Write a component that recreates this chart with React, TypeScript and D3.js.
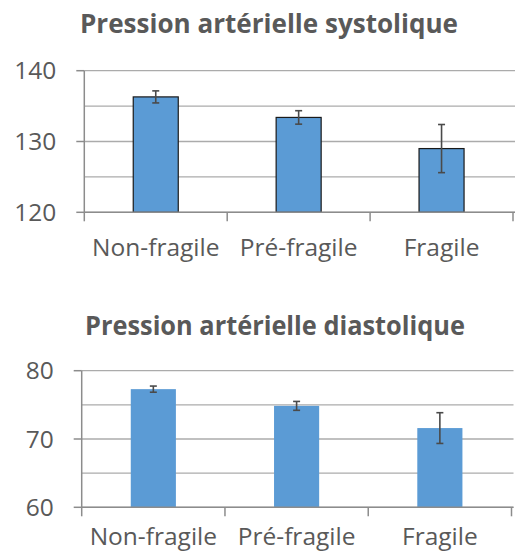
import React from "react";
import * as d3 from "d3";

const categories = ["Non-fragile", "Pré-fragile", "Fragile"];
const systolicValues = [136.3, 133.4, 129.0];
const systolicErrors = [0.85, 0.95, 3.4];
const systolicTicks = [120, 130, 140];
const systolicGrid = [120, 125, 130, 135, 140];
const diastolicValues = [77.3, 74.85, 71.6];
const diastolicErrors = [0.45, 0.65, 2.25];
const diastolicTicks = [60, 70, 80];
const diastolicGrid = [60, 65, 70, 75, 80];

const TEXT = "#595959";
const FONT = "'Open Sans', sans-serif";

type PanelProps = {
  title: string;
  values: number[];
  errors: number[];
  ticks: number[];
  grid: number[];
  domain: [number, number];
  titleY: number;
  titleX: number;
  titleLen: number;
  x0: number;
  x1: number;
  yTop: number;
  yBottom: number;
  labelY: number;
  outline: boolean;
};

function Panel(p: PanelProps) {
  const x = d3.scaleBand<string>().domain(categories).range([p.x0, p.x1]).paddingInner(0).paddingOuter(0);
  const y = d3.scaleLinear().domain(p.domain).range([p.yBottom, p.yTop]);
  const step = x.step();
  const bw = step * 0.315;
  return (
    <g>
      <text
        x={p.titleX}
        y={p.titleY}
        textAnchor="middle"
        fontFamily={FONT}
        fontWeight="bold"
        fontSize={27}
        fill={TEXT}
        textLength={p.titleLen}
        lengthAdjust="spacingAndGlyphs"
      >
        {p.title}
      </text>
      {p.grid.map((g) => (
        <line key={"g" + g} x1={p.x0} x2={p.x1 + 2} y1={y(g)} y2={y(g)} stroke="#ababab" strokeWidth={1.3} />
      ))}
      {/* y axis */}
      <line x1={p.x0} x2={p.x0} y1={p.yTop} y2={p.yBottom} stroke="#8c8c8c" strokeWidth={1.5} />
      {p.ticks.map((t) => (
        <g key={"t" + t}>
          <line x1={p.x0 - 8} x2={p.x0} y1={y(t)} y2={y(t)} stroke="#8c8c8c" strokeWidth={1.5} />
          <text x={p.x0 - 28} y={y(t)} dy="0.35em" textAnchor="end" fontFamily={FONT} fontSize={24.5} fill={TEXT}>
            {t}
          </text>
        </g>
      ))}
      {/* bars */}
      {categories.map((c, i) => {
        const cx = (x(c) as number) + step / 2;
        const v = p.values[i];
        const e = p.errors[i];
        return (
          <g key={c}>
            <rect
              x={cx - bw / 2}
              y={y(v)}
              width={bw}
              height={p.yBottom - y(v)}
              fill="#5b9bd5"
              stroke={p.outline ? "#1a1a1a" : "none"}
              strokeWidth={1.2}
            />
            <line x1={cx} x2={cx} y1={y(v + e)} y2={y(v - e)} stroke="#4a4a4a" strokeWidth={1.6} />
            <line x1={cx - 3.5} x2={cx + 3.5} y1={y(v + e)} y2={y(v + e)} stroke="#4a4a4a" strokeWidth={1.6} />
            <line x1={cx - 3.5} x2={cx + 3.5} y1={y(v - e)} y2={y(v - e)} stroke="#4a4a4a" strokeWidth={1.6} />
            <text x={cx} y={p.labelY} textAnchor="middle" fontFamily={FONT} fontSize={24.5} fill={TEXT}>
              {c}
            </text>
          </g>
        );
      })}
      {/* x axis */}
      <line x1={p.x0} x2={p.x1 + 2} y1={p.yBottom} y2={p.yBottom} stroke="#8c8c8c" strokeWidth={1.5} />
      {[0, 1, 2, 3].map((k) => (
        <line
          key={"xt" + k}
          x1={p.x0 + k * step}
          x2={p.x0 + k * step}
          y1={p.yBottom}
          y2={p.yBottom + 9}
          stroke="#8c8c8c"
          strokeWidth={1.5}
        />
      ))}
    </g>
  );
}

export default function App() {
  return (
    <svg width={520} height={558} style={{ position: "absolute", left: 0, top: 0, background: "#fff" }}>
      <rect width={520} height={558} fill="#fff" />
      <Panel
        title="Pression artérielle systolique"
        values={systolicValues}
        errors={systolicErrors}
        ticks={systolicTicks}
        grid={systolicGrid}
        domain={[120, 140]}
        titleX={269}
        titleY={33}
        titleLen={378}
        x0={84.3}
        x1={513}
        yTop={70.7}
        yBottom={212.3}
        labelY={256}
        outline={true}
      />
      <Panel
        title="Pression artérielle diastolique"
        values={diastolicValues}
        errors={diastolicErrors}
        ticks={diastolicTicks}
        grid={diastolicGrid}
        domain={[60, 80]}
        titleX={275}
        titleY={335}
        titleLen={380}
        x0={81.7}
        x1={511.5}
        yTop={370.7}
        yBottom={507.3}
        labelY={545}
        outline={false}
      />
    </svg>
  );
}
